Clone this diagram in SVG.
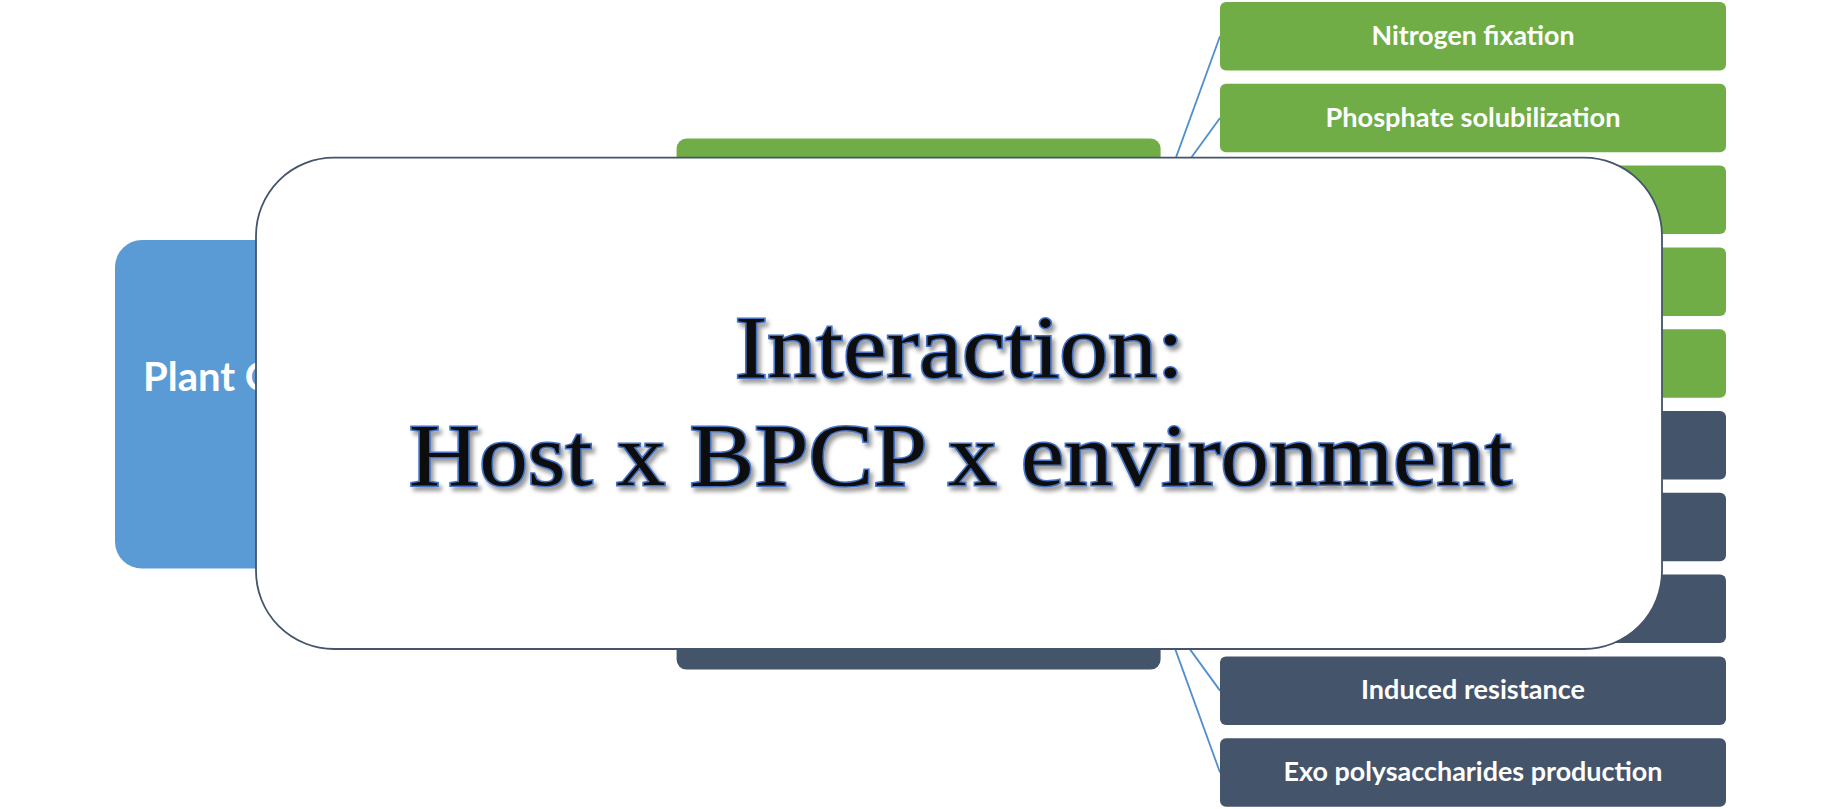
<svg xmlns="http://www.w3.org/2000/svg" width="1842" height="809" viewBox="0 0 1842 809">
  <defs>
    <style>
      .green { fill: #70AD47; }
      .dark { fill: #44546A; }
      .root { fill: #5B9BD5; }
      .lbl { font-family: Lato, "Open Sans", "Liberation Sans", sans-serif; font-weight: 700; font-size: 27px; fill: #FFFFFF; text-anchor: middle; }
      .conn { stroke: #4F8FCF; stroke-width: 1.8; fill: none; }
      .big { font-family: "Liberation Serif", "DejaVu Serif", serif; font-size: 88px; fill: #0A0A0A; stroke: #4472C4; stroke-width: 3; paint-order: stroke; text-anchor: middle; }
    </style>
    <filter id="shadow" x="-10%" y="-30%" width="120%" height="160%">
      <feDropShadow dx="3" dy="4" stdDeviation="2.2" flood-color="#000000" flood-opacity="0.4"/>
    </filter>
  </defs>

  <g id="connectors">
    <line class="conn" x1="1160.6" y1="199.85" x2="1220" y2="36.25"/>
    <line class="conn" x1="1160.6" y1="199.85" x2="1220" y2="118.05"/>
    <line class="conn" x1="1160.6" y1="199.85" x2="1220" y2="199.85"/>
    <line class="conn" x1="1160.6" y1="199.85" x2="1220" y2="281.65"/>
    <line class="conn" x1="1160.6" y1="199.85" x2="1220" y2="363.45"/>
    <line class="conn" x1="1160.6" y1="608.85" x2="1220" y2="445.25"/>
    <line class="conn" x1="1160.6" y1="608.85" x2="1220" y2="527.05"/>
    <line class="conn" x1="1160.6" y1="608.85" x2="1220" y2="608.85"/>
    <line class="conn" x1="1160.6" y1="608.85" x2="1220" y2="690.65"/>
    <line class="conn" x1="1160.6" y1="608.85" x2="1220" y2="772.45"/>
  </g>

  <g id="root-node">
    <rect class="root" x="115" y="240" width="485" height="328.6" rx="27" ry="27"/>
    <text x="143" y="391" font-family="Lato, 'Open Sans', 'Liberation Sans', sans-serif" font-weight="700" font-size="40" fill="#FFFFFF">Plant G</text>
  </g>

  <g id="mid-green">
    <rect class="green" x="676.6" y="138.6" width="484" height="122.5" rx="10" ry="10"/>
  </g>
  <g id="mid-dark">
    <rect class="dark" x="676.6" y="547.6" width="484" height="122" rx="10" ry="10"/>
  </g>

  <g id="child-1">
    <rect class="green" x="1220" y="2" width="506" height="68.5" rx="6" ry="6"/>
    <text class="lbl" x="1473" y="44.8" textLength="203" lengthAdjust="spacingAndGlyphs">Nitrogen fixation</text>
  </g>
  <g id="child-2">
    <rect class="green" x="1220" y="83.8" width="506" height="68.5" rx="6" ry="6"/>
    <text class="lbl" x="1473" y="126.6" textLength="295" lengthAdjust="spacingAndGlyphs">Phosphate solubilization</text>
  </g>
  <g id="child-3">
    <rect class="green" x="1220" y="165.6" width="506" height="68.5" rx="6" ry="6"/>
  </g>
  <g id="child-4">
    <rect class="green" x="1220" y="247.4" width="506" height="68.5" rx="6" ry="6"/>
  </g>
  <g id="child-5">
    <rect class="green" x="1220" y="329.2" width="506" height="68.5" rx="6" ry="6"/>
  </g>
  <g id="child-6">
    <rect class="dark" x="1220" y="411" width="506" height="68.5" rx="6" ry="6"/>
  </g>
  <g id="child-7">
    <rect class="dark" x="1220" y="492.8" width="506" height="68.5" rx="6" ry="6"/>
  </g>
  <g id="child-8">
    <rect class="dark" x="1220" y="574.6" width="506" height="68.5" rx="6" ry="6"/>
  </g>
  <g id="child-9">
    <rect class="dark" x="1220" y="656.4" width="506" height="68.5" rx="6" ry="6"/>
    <text class="lbl" x="1473" y="699.2" textLength="224" lengthAdjust="spacingAndGlyphs">Induced resistance</text>
  </g>
  <g id="child-10">
    <rect class="dark" x="1220" y="738.2" width="506" height="68.5" rx="6" ry="6"/>
    <text class="lbl" x="1473" y="781" textLength="379" lengthAdjust="spacingAndGlyphs">Exo polysaccharides production</text>
  </g>

  <g id="interaction-overlay">
    <rect x="256" y="157.7" width="1406" height="491.3" rx="78" ry="78" fill="#FFFFFF" stroke="#44546A" stroke-width="1.8"/>
    <g filter="url(#shadow)">
      <text class="big" x="959.5" y="377" textLength="449" lengthAdjust="spacingAndGlyphs">Interaction:</text>
      <text class="big" x="960.5" y="485" textLength="1103" lengthAdjust="spacingAndGlyphs">Host x BPCP x environment</text>
    </g>
  </g>
</svg>
